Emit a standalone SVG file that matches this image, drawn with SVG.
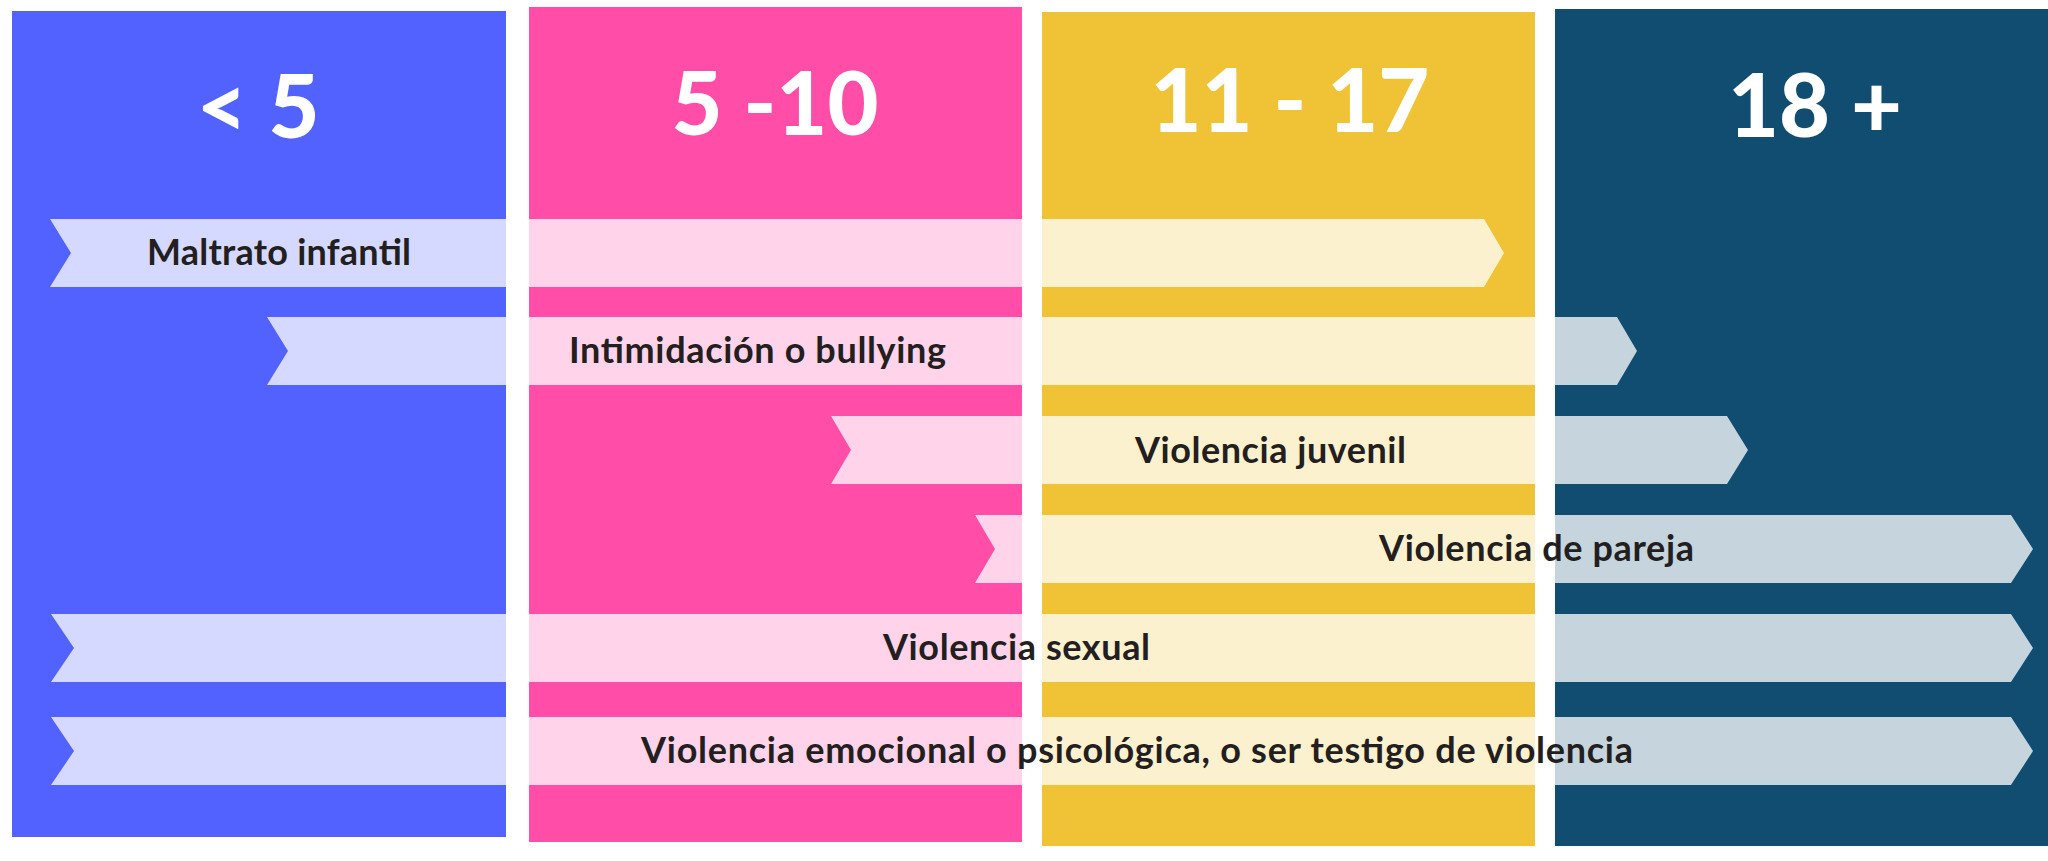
<svg xmlns="http://www.w3.org/2000/svg" width="2048" height="861" viewBox="0 0 2048 861">
<style>
.head{font-family:Lato,"Open Sans","Liberation Sans",sans-serif;font-weight:900;font-size:88px;fill:#ffffff;text-anchor:middle}
.lbl{font-family:Lato,"Open Sans","Liberation Sans",sans-serif;font-weight:700;font-size:36px;fill:#231f20}
.rib{fill:#ffffff;fill-opacity:0.76}
</style>
<defs>
<clipPath id="cols">
<rect x="12" y="11" width="494" height="826"/>
<rect x="529" y="7" width="493" height="835"/>
<rect x="1042" y="12" width="493" height="834"/>
<rect x="1555" y="9" width="493" height="837"/>
</clipPath>
</defs>
<rect width="2048" height="861" fill="#ffffff"/>
<g id="col-lt5"><rect x="12" y="11" width="494" height="826" fill="#5262ff"/><text class="head" x="258" y="138">&lt; 5</text></g>
<g id="col-5-10"><rect x="529" y="7" width="493" height="835" fill="#ff4da8"/><text class="head" x="775" y="135">5 -10</text></g>
<g id="col-11-17"><rect x="1042" y="12" width="493" height="834" fill="#f0c336"/><text class="head" x="1290" y="132">11 - 17</text></g>
<g id="col-18"><rect x="1555" y="9" width="493" height="837" fill="#104d71"/><text class="head" x="1815" y="137">18 +</text></g>
<g id="ribbons" clip-path="url(#cols)">
<g id="r-maltrato"><polygon class="rib" points="50,219 1484,219 1504,253 1484,287 50,287 71,253"/></g>
<g id="r-bullying"><polygon class="rib" points="267,317 1617,317 1637,351 1617,385 267,385 288,351"/></g>
<g id="r-juvenil"><polygon class="rib" points="831,416 1727,416 1748,450 1727,484 831,484 851,450"/></g>
<g id="r-pareja"><polygon class="rib" points="975,515 2011,515 2033,549 2011,583 975,583 995,549"/></g>
<g id="r-sexual"><polygon class="rib" points="51,614 2011,614 2033,648 2011,682 51,682 74,648"/></g>
<g id="r-emocional"><polygon class="rib" points="51,717 2011,717 2033,751 2011,785 51,785 74,751"/></g>
</g>
<g id="labels">
<text class="lbl" x="147" y="265" textLength="264">Maltrato infantil</text>
<text class="lbl" x="569" y="363" textLength="377">Intimidación o bullying</text>
<text class="lbl" x="1135" y="463" textLength="271">Violencia juvenil</text>
<text class="lbl" x="1379" y="561" textLength="315">Violencia de pareja</text>
<text class="lbl" x="883" y="660" textLength="267">Violencia sexual</text>
<text class="lbl" x="641" y="763" textLength="992">Violencia emocional o psicológica, o ser testigo de violencia</text>
</g>
</svg>
